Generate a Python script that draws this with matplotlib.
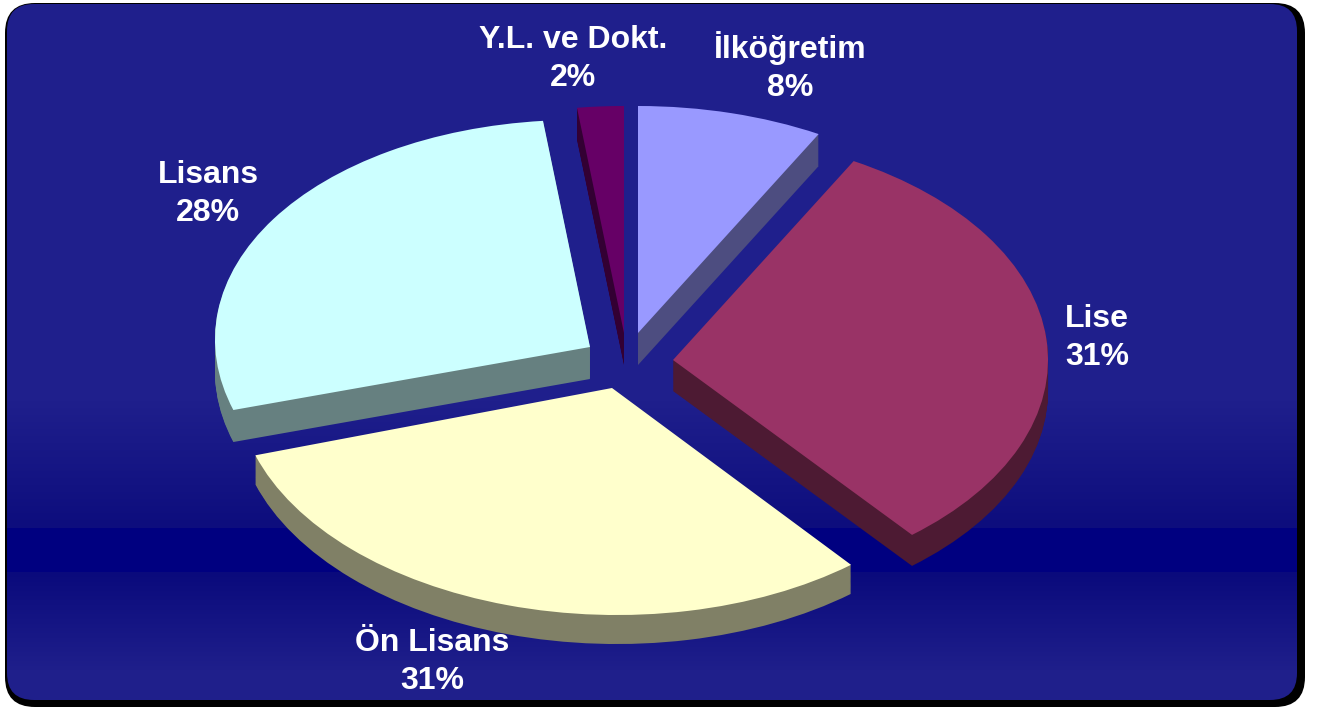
import numpy as np
import matplotlib

matplotlib.use("Agg")
import matplotlib.pyplot as plt
from matplotlib.patches import FancyBboxPatch
from matplotlib.transforms import Affine2D

# Education level shares, clockwise from 12 o'clock
categories = ["İlköğretim", "Lise", "Ön Lisans", "Lisans", "Y.L. ve Dokt."]
shares = [8, 31, 31, 28, 2]
tick_labels = ["8%", "31%", "31%", "28%", "2%"]

# Styling and layout, in reference pixels
TOP_COLORS = ["#9999FF", "#993366", "#FFFFCC", "#CCFFFF", "#660066"]
SIDE_COLORS = ["#4D4D80", "#4D1A33", "#808066", "#668080", "#330033"]
APEX = [(638, 333), (673, 360), (612, 388), (590, 347), (624, 333)]
DEPTHS = [32, 31, 29, 32, 32]
TILT = [0, 0, 0.008, 0.02, 0]
LABEL_POS = [(790, 67), (1097, 338), (432, 662), (208, 194), (573, 59)]
RX, RY = 375, 227
W, H = 1320, 709

fig = plt.figure(figsize=(W / 100, H / 100), dpi=100)
ax = fig.add_axes([0, 0, 1, 1])


def draw_pie(colors, frac):
    wedges, _ = ax.pie(shares, colors=colors, startangle=90, counterclock=False)
    for i, wedge in enumerate(wedges):
        x, y = APEX[i]
        tr = Affine2D().scale(RX, -RY).skew(0, TILT[i]).translate(x, y + DEPTHS[i] * frac)
        wedge.set_transform(tr + ax.transData)
        wedge.set_edgecolor("none")
        wedge.set_zorder(3 if frac == 0 else 2)


# Extruded sides first, then the top faces
for frac in np.linspace(1, 0, 33)[:-1]:
    draw_pie(SIDE_COLORS, frac)
draw_pie(TOP_COLORS, 0)

ax.set_aspect("auto")
ax.set_xlim(0, W)
ax.set_ylim(H, 0)
ax.axis("off")

# Rounded panel on a black backing that shows at the right and bottom
backing = FancyBboxPatch(
    (5, 3), 1300, 704, boxstyle="round,pad=0,rounding_size=30",
    fc="black", ec="none", zorder=0,
)
ax.add_patch(backing)
panel = FancyBboxPatch(
    (7, 4), 1290, 696, boxstyle="round,pad=0,rounding_size=27",
    fc="none", ec="none", zorder=1,
)
ax.add_patch(panel)

# Vertical gradient with the dark navy band low down
rows = np.arange(H)
stops_y = [0, 400, 527, 528, 571, 572, 670, 709]
red = np.interp(rows, stops_y, [31, 31, 13, 0, 0, 10, 31, 31])
blue = np.interp(rows, stops_y, [140, 140, 125, 128, 128, 124, 139, 139])
gradient = np.stack([red, red, blue], axis=-1)[:, None, :] / 255
im = ax.imshow(gradient, extent=(0, W, H, 0), aspect="auto", zorder=1)
im.set_clip_path(panel)
ax.set_xlim(0, W)
ax.set_ylim(H, 0)

for name, pct, (x, y) in zip(categories, tick_labels, LABEL_POS):
    ax.text(
        x, y, f"{name}\n{pct}", color="white", ha="center", va="center",
        family="Liberation Sans", weight="bold", fontsize=23, linespacing=1.37,
        zorder=5,
    )

fig.savefig("out.png", dpi=100, facecolor="white")
